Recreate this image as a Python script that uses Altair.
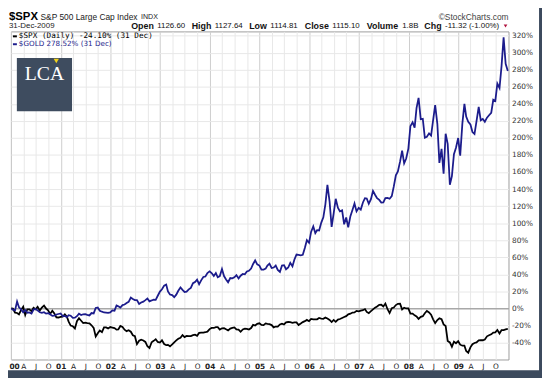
import altair as alt
import pandas as pd

# ---------------- data (percent change since 31-Dec-1999) ----------------
spx_pct = [0.0,
    # 2000
    -0.3, -5.1, -5.4, -7.0, -2.0, 2.0, -7.7, -1.1, -1.2, -3.3, 0.6, -1.0,
    1.8, -2.6, 1.0, 3.3, -0.2, -2.2, -6.5, -2.7, -5.9, -10.5, -10.7, -10.1,
    # 2001
    -9.8, -7.0, -9.8, -15.6, -20.2, -21.0, -23.5, -15.0, -11.5, -14.5, -17.3, -16.7,
    -17.3, -17.6, -19.8, -22.8, -33.0, -29.2, -25.9, -27.9, -22.3, -22.4, -23.5, -21.9,
    # 2002
    -22.5, -23.1, -24.9, -24.7, -20.6, -21.9, -25.0, -26.7, -25.7, -27.4, -31.5, -32.6,
    -42.0, -38.0, -36.7, -37.7, -39.4, -44.5, -46.5, -39.7, -38.1, -36.3, -39.4, -40.1,
    # 2003
    -37.5, -41.8, -43.2, -42.8, -44.5, -42.3, -39.8, -37.6, -35.6, -34.4, -31.3, -33.7,
    -32.3, -32.6, -32.6, -31.4, -30.9, -32.2, -28.8, -28.5, -28.5, -28.0, -27.3, -24.3,
    # 2004
    -23.0, -23.0, -22.0, -22.1, -24.9, -23.4, -23.2, -24.6, -25.8, -23.7, -22.9, -22.4,
    -24.7, -25.0, -27.5, -24.8, -23.8, -24.1, -24.9, -23.1, -19.4, -20.1, -18.1, -17.5,
    # 2005
    -19.4, -19.6, -17.6, -18.1, -18.5, -19.6, -22.3, -21.3, -21.4, -18.9, -17.9, -18.9,
    -16.4, -16.0, -16.1, -16.9, -16.4, -16.4, -19.5, -17.8, -16.1, -15.0, -13.5, -15.0,
    # 2006
    -12.4, -12.9, -12.9, -12.8, -11.3, -11.9, -12.3, -10.8, -11.9, -13.6, -16.0, -13.5,
    -15.8, -13.1, -12.5, -11.3, -10.2, -9.1, -7.0, -6.2, -4.9, -4.7, -2.9, -3.5,
    # 2007
    -2.6, -2.1, -0.8, -4.2, -5.5, -3.3, -1.2, 0.9, 2.2, 4.2, 4.3, 2.3,
    5.7, -1.0, -5.5, 0.3, 1.0, 3.9, 5.4, 5.5, -1.2, 0.8, -0.1, -0.1,
    # 2008
    -6.1, -6.2, -8.2, -9.4, -12.3, -10.0, -9.2, -5.7, -3.1, -4.7, -7.4, -12.9,
    -17.3, -13.7, -11.7, -12.7, -18.8, -20.6, -38.2, -40.0, -45.0, -39.0, -40.9, -38.5,
    # 2009
    -42.6, -43.8, -43.7, -50.0, -52.0, -45.7, -42.0, -40.6, -39.9, -37.4, -37.2, -37.4,
    -36.6, -32.8, -31.6, -30.5, -28.3, -28.1, -25.4, -29.5, -25.5, -25.4, -24.6, -24.1,
]

gold_pct = [0.0,
    # 2000
    -1.7, -2.4, 8.0, 1.3, -1.0, -4.6, -2.1, -5.1, -4.8, -6.1, -1.4, -0.6,
    -2.4, -4.6, -5.2, -4.5, -6.2, -5.6, -6.9, -8.8, -8.6, -7.2, -6.6, -6.0,
    # 2001
    -9.0, -8.8, -10.3, -8.0, -8.6, -11.1, -11.0, -9.2, -6.2, -7.8, -6.9, -6.7,
    -7.6, -8.3, -5.5, -5.9, 0.5, 1.1, -2.8, -3.9, -4.8, -5.0, -5.2, -4.7,
    # 2002
    -2.4, -2.7, 3.4, 2.4, 1.0, 3.9, 4.5, 6.3, 7.6, 12.6, 11.0, 9.8,
    9.7, 5.1, 6.9, 7.9, 9.7, 11.6, 8.3, 9.3, 10.3, 10.0, 14.8, 19.7,
    # 2003
    22.4, 26.7, 28.0, 19.8, 16.2, 15.5, 13.1, 16.1, 20.7, 24.6, 21.7, 19.3,
    19.7, 22.3, 24.1, 29.5, 31.0, 33.8, 28.3, 33.2, 36.9, 37.4, 41.4, 43.5,
    # 2004
    41.4, 37.9, 41.4, 36.5, 37.9, 46.1, 37.9, 34.0, 30.7, 35.6, 35.2, 36.5,
    39.0, 35.0, 38.3, 40.4, 40.0, 43.3, 44.1, 46.8, 52.1, 56.3, 51.7, 50.2,
    # 2005
    45.5, 45.6, 46.6, 50.2, 52.4, 47.4, 47.9, 50.2, 45.2, 42.9, 50.3, 50.7,
    45.9, 47.9, 53.4, 49.4, 57.6, 63.2, 62.8, 62.3, 62.8, 70.9, 80.0, 76.9,
    # 2006
    89.7, 96.1, 88.3, 91.7, 91.4, 100.7, 106.9, 122.1, 145.0, 125.2, 95.5, 111.6,
    128.6, 118.1, 113.8, 115.0, 98.6, 106.6, 95.0, 108.2, 115.5, 123.0, 113.8, 117.9,
    # 2007
    115.9, 124.3, 129.3, 129.0, 122.8, 128.2, 137.9, 133.4, 129.3, 127.3, 124.1, 124.3,
    129.3, 129.5, 128.6, 131.7, 143.1, 156.2, 160.7, 172.2, 185.0, 170.2, 175.9, 187.5,
    # 2008
    213.8, 218.4, 212.1, 235.0, 247.0, 221.9, 222.4, 200.3, 201.4, 205.4, 202.8, 220.8,
    238.6, 216.6, 170.7, 187.2, 158.0, 205.0, 193.1, 145.0, 155.2, 180.9, 188.6, 199.9,
    # 2009
    179.3, 217.1, 240.0, 225.0, 219.0, 216.0, 206.9, 204.6, 219.7, 236.4, 220.7, 222.2,
    219.0, 223.8, 226.6, 229.5, 244.8, 243.4, 263.8, 258.6, 284.5, 318.0, 287.0, 278.5,
]

series_names = ["$SPX", "$GOLD"]
series_colors = ["#000000", "#1c1c8c"]
y_ticks = list(range(-40, 321, 20))

dates = ["2000-01-03"]
for yr in range(2000, 2010):
    for mo in range(1, 13):
        dates.append(f"{yr}-{mo:02d}-15")
        end = pd.Timestamp(year=yr, month=mo, day=1) + pd.offsets.MonthEnd(0)
        dates.append(end.strftime("%Y-%m-%d"))

n = len(dates)
df = pd.DataFrame({
    "date": dates * 2,
    "pct": spx_pct + gold_pct,
    "series": [series_names[0]] * n + [series_names[1]] * n,
})

# ---------------- layout helpers ----------------
OX, OY = 11, 29          # plot origin in page pixels
W, H = 505, 333
FRAME = "#3c4a5d"
one = pd.DataFrame({"k": [0]})


def txt(s, px, py, size=8, weight="normal", color="#000000",
        font="Liberation Sans", align="left", baseline="middle"):
    return alt.Chart(one).mark_text(
        text=s, align=align, baseline=baseline, font=font,
        fontSize=size, fontWeight=weight, color=color
    ).encode(x=alt.value(px - OX), y=alt.value(py - OY))


def box(x1, y1, x2, y2, color):
    return alt.Chart(one).mark_rect(color=color).encode(
        x=alt.value(x1 - OX), x2=alt.value(x2 - OX),
        y=alt.value(y1 - OY), y2=alt.value(y2 - OY))


quarters = [alt.DateTime(year=y, month=m, date=1)
            for y in range(2000, 2010) for m in (1, 4, 7, 10)]

is_year = "month(datum.value) == 0"

lines = alt.Chart(df).mark_line(strokeWidth=1.8, interpolate="linear").encode(
    x=alt.X("date:T",
            scale=alt.Scale(domain=[alt.DateTime(year=2000, month=1, date=1),
                                    alt.DateTime(year=2010, month=1, date=5)]),
            axis=alt.Axis(values=quarters, title=None, ticks=False, domain=False,
                          grid=True,
                          gridColor={"condition": {"test": is_year, "value": "#cdcdcd"},
                                     "value": "#e8e8e8"},
                          labelExpr=f"{is_year} ? timeFormat(datum.value, '%y') : "
                                    "substring(timeFormat(datum.value, '%b'), 0, 1)",
                          labelFontWeight={"condition": {"test": is_year, "value": "bold"},
                                           "value": "normal"},
                          labelColor="#222222", labelFont="DejaVu Sans",
                          labelFontSize=7.5, labelPadding=3,
                          labelFlush=True, labelFlushOffset=2, labelOverlap=False)),
    y=alt.Y("pct:Q",
            scale=alt.Scale(domain=[-60, 325], nice=False, zero=False),
            axis=alt.Axis(orient="right", values=y_ticks, title=None,
                          ticks=False, domain=False, grid=True,
                          gridColor={"condition": {"test": "datum.value == 0", "value": "#a8a8a8"},
                                     "value": "#e8e8e8"},
                          gridWidth={"condition": {"test": "datum.value == 0", "value": 1.6},
                                     "value": 1},
                          labelExpr="datum.value + '%'", labelAlign="left",
                          labelPadding=3, labelFont="DejaVu Sans",
                          labelFontSize=7.5, labelColor="#333333")),
    color=alt.Color("series:N", legend=None,
                    scale=alt.Scale(domain=series_names, range=series_colors)),
    order=alt.Order("series:N", sort="descending"),
)

layers = [lines]

# outer dark frame (right and bottom edges)
layers.append(box(547, -20, 560, 400, FRAME))
layers.append(box(-20, 373, 560, 400, FRAME))

# logo
layers.append(box(17, 56, 73, 110, "#3e4c5f"))
layers.append(txt("LCA", 45, 78, size=20, font="Liberation Serif", color="#ffffff",
                  align="center", baseline="alphabetic"))
layers.append(alt.Chart(one).mark_point(shape="triangle-down", filled=True, opacity=1,
                                        color="#f2d21b", size=28)
              .encode(x=alt.value(57 - OX), y=alt.value(59 - OY)))

# legend inside plot
layers.append(alt.Chart(one).mark_rule(color="#000000", strokeWidth=2)
              .encode(x=alt.value(13 - OX), x2=alt.value(17 - OX), y=alt.value(34 - OY)))
layers.append(alt.Chart(one).mark_rule(color="#1c1c8c", strokeWidth=2)
              .encode(x=alt.value(13 - OX), x2=alt.value(17 - OX), y=alt.value(42 - OY)))
layers.append(txt("$SPX (Daily) -24.10% (31 Dec)", 19, 34, size=7.8,
                  font="DejaVu Sans Mono", color="#000000"))
layers.append(txt("$GOLD 278.52% (31 Dec)", 19, 42, size=7.3,
                  font="DejaVu Sans", color="#1c1c8c"))

# header
layers.append(txt("$SPX", 9, 14, size=11.5, weight="bold"))
layers.append(txt("S&P 500 Large Cap Index", 41, 14, size=8.5, color="#222222"))
layers.append(txt("INDX", 143, 14.5, size=7.2, color="#222222"))
layers.append(txt("\u00a9StockCharts.com", 516, 14, size=8.5, color="#444444", align="right"))
layers.append(txt("31-Dec-2009", 9, 24, size=8, color="#222222"))

info = [("Open", True), ("1126.60", False), ("High", True), ("1127.64", False),
        ("Low", True), ("1114.81", False), ("Close", True), ("1115.10", False),
        ("Volume", True), ("1.8B", False), ("Chg", True), ("-11.32 (-1.00%)", False)]
info_x = [133, 159.5, 194.4, 217.9, 252.8, 274.3, 309.2, 337.2, 372.1, 408.1, 430.6, 451.6]
for (s, bold), px in zip(info, info_x):
    layers.append(txt(s, px, 24, size=9 if bold else 8,
                      weight="bold" if bold else "normal", color="#111111"))
layers.append(alt.Chart(one).mark_point(shape="triangle-down", filled=True, opacity=1,
                                        color="#b0103c", size=14)
              .encode(x=alt.value(513 - OX), y=alt.value(23.5 - OY)))

chart = alt.layer(*layers).properties(
    width=W, height=H,
    padding={"left": OX - 8, "top": OY - 8, "right": 550 - 8 - (OX - 8) - W,
             "bottom": 378 - 8 - (OY - 8) - H},
    autosize=alt.AutoSizeParams(type="none"),
    background="#ffffff",
).configure_view(stroke="#9c9c9c", strokeWidth=1)

chart.save("out.html", embed_options={"renderer": "svg", "actions": False})
